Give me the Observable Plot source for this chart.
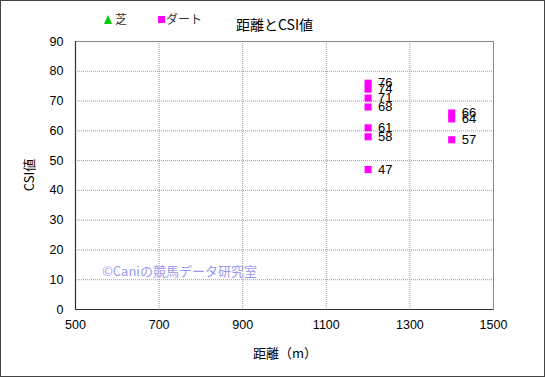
<!DOCTYPE html>
<html>
<head>
<meta charset="utf-8">
<script src="https://cdn.jsdelivr.net/npm/d3@7"></script>
<script src="https://cdn.jsdelivr.net/npm/@observablehq/plot@0.6"></script>
<style>
  html, body { margin: 0; padding: 0; background: #fff; }
  #wrap { position: relative; width: 545px; height: 377px; overflow: hidden;
          font-family: "Liberation Sans", Arial, "Noto Sans CJK JP", sans-serif; color: #000; }
  #wrap svg { position: absolute; left: 0; top: 0; }
  .t { position: absolute; white-space: nowrap; line-height: 1; }
  #border { position: absolute; left: 0; top: 0; width: 543px; height: 375px; border: 1px solid #444; pointer-events: none; }
</style>
</head>
<body>
<div id="wrap"></div>
<script>
// ---- data ----
const title = "距離とCSI値";
const seriesNames = ["芝", "ダート"];
const turfDistance = [];
const turfCSI = [];
const dirtDistance = [1200, 1200, 1200, 1200, 1200, 1200, 1200, 1400, 1400, 1400];
const dirtCSI = [76, 74, 71, 68, 61, 58, 47, 66, 64, 57];
const xTicks = [500, 700, 900, 1100, 1300, 1500];
const yTicks = [0, 10, 20, 30, 40, 50, 60, 70, 80, 90];
const xLabel = "距離（m）";
const yLabel = "CSI値";
const watermark = "©Caniの競馬データ研究室";

const dirt = dirtDistance.map((d, i) => ({ distance: d, csi: dirtCSI[i] }));
const turf = turfDistance.map((d, i) => ({ distance: d, csi: turfCSI[i] }));

const chart = Plot.plot({
  width: 545,
  height: 377,
  marginLeft: 75,
  marginRight: 52,
  marginTop: 41,
  marginBottom: 68,
  style: { fontFamily: "'Liberation Sans', Arial, sans-serif", fontSize: "12px", background: "transparent", color: "#000" },
  x: { domain: [500, 1500], ticks: xTicks },
  y: { domain: [0, 90], ticks: yTicks },
  marks: [
    Plot.gridX(xTicks.slice(1, -1), { stroke: "#999", strokeOpacity: 1, strokeDasharray: "1,1" }),
    Plot.gridY(yTicks.slice(1, -1), { stroke: "#999", strokeOpacity: 1, strokeDasharray: "1,1" }),
    Plot.frame({ stroke: "#888" }),
    Plot.ruleX([500], { stroke: "#333", strokeWidth: 1.2 }),
    Plot.ruleY([0], { stroke: "#333", strokeWidth: 1.2 }),
    Plot.axisX({ ticks: xTicks, tickFormat: d => String(d), tickSize: 0, tickPadding: 11, fontSize: 12.5, label: null }),
    Plot.axisY({ ticks: yTicks, tickFormat: d => String(d), tickSize: 0, tickPadding: 12, fontSize: 12.5, label: null }),
    Plot.dot(turf, { x: "distance", y: "csi", symbol: "triangle", r: 4, fill: "#00cc00", stroke: "none" }),
    Plot.dot(dirt, { x: "distance", y: "csi", symbol: "square", r: 4, fill: "#ff00ff", stroke: "none" }),
    Plot.text(dirt, { x: "distance", y: "csi", text: d => String(d.csi), dx: 10, textAnchor: "start", fontSize: 13, fill: "#000" })
  ]
});

const wrap = document.getElementById("wrap");
wrap.appendChild(chart);

function addText(txt, css) {
  const s = document.createElement("div");
  s.className = "t";
  s.textContent = txt;
  Object.assign(s.style, css);
  wrap.appendChild(s);
  return s;
}

// title
addText(title, { left: "236px", top: "17px", fontSize: "14px", fontFamily: "'Noto Sans CJK JP', sans-serif" });
// legend
const tri = document.createElement("div");
Object.assign(tri.style, { position: "absolute", left: "104px", top: "15px", width: "0", height: "0",
  borderLeft: "4.5px solid transparent", borderRight: "4.5px solid transparent", borderBottom: "9px solid #00cc00" });
wrap.appendChild(tri);
addText(seriesNames[0], { left: "115px", top: "13px", fontSize: "12px", color: "#333", fontFamily: "'Noto Sans CJK JP', sans-serif" });
const sq = document.createElement("div");
Object.assign(sq.style, { position: "absolute", left: "158px", top: "16px", width: "7px", height: "7px", background: "#ff00ff" });
wrap.appendChild(sq);
addText(seriesNames[1], { left: "166px", top: "13px", fontSize: "12px", color: "#333", fontFamily: "'Noto Sans CJK JP', sans-serif" });
// axis labels
addText(xLabel, { left: "285px", top: "346px", transform: "translateX(-50%)", fontSize: "13px", fontFamily: "'Noto Sans CJK JP', sans-serif" });
addText(yLabel, { left: "28px", top: "175px", transform: "translate(-50%,-50%) rotate(-90deg)", fontSize: "13px", fontFamily: "'Noto Sans CJK JP', sans-serif" });
// watermark
addText(watermark, { left: "102px", top: "264px", fontSize: "13px", color: "#9a9af0", fontFamily: "'Noto Sans CJK JP', sans-serif" });

const b = document.createElement("div");
b.id = "border";
wrap.appendChild(b);
</script>
</body>
</html>
